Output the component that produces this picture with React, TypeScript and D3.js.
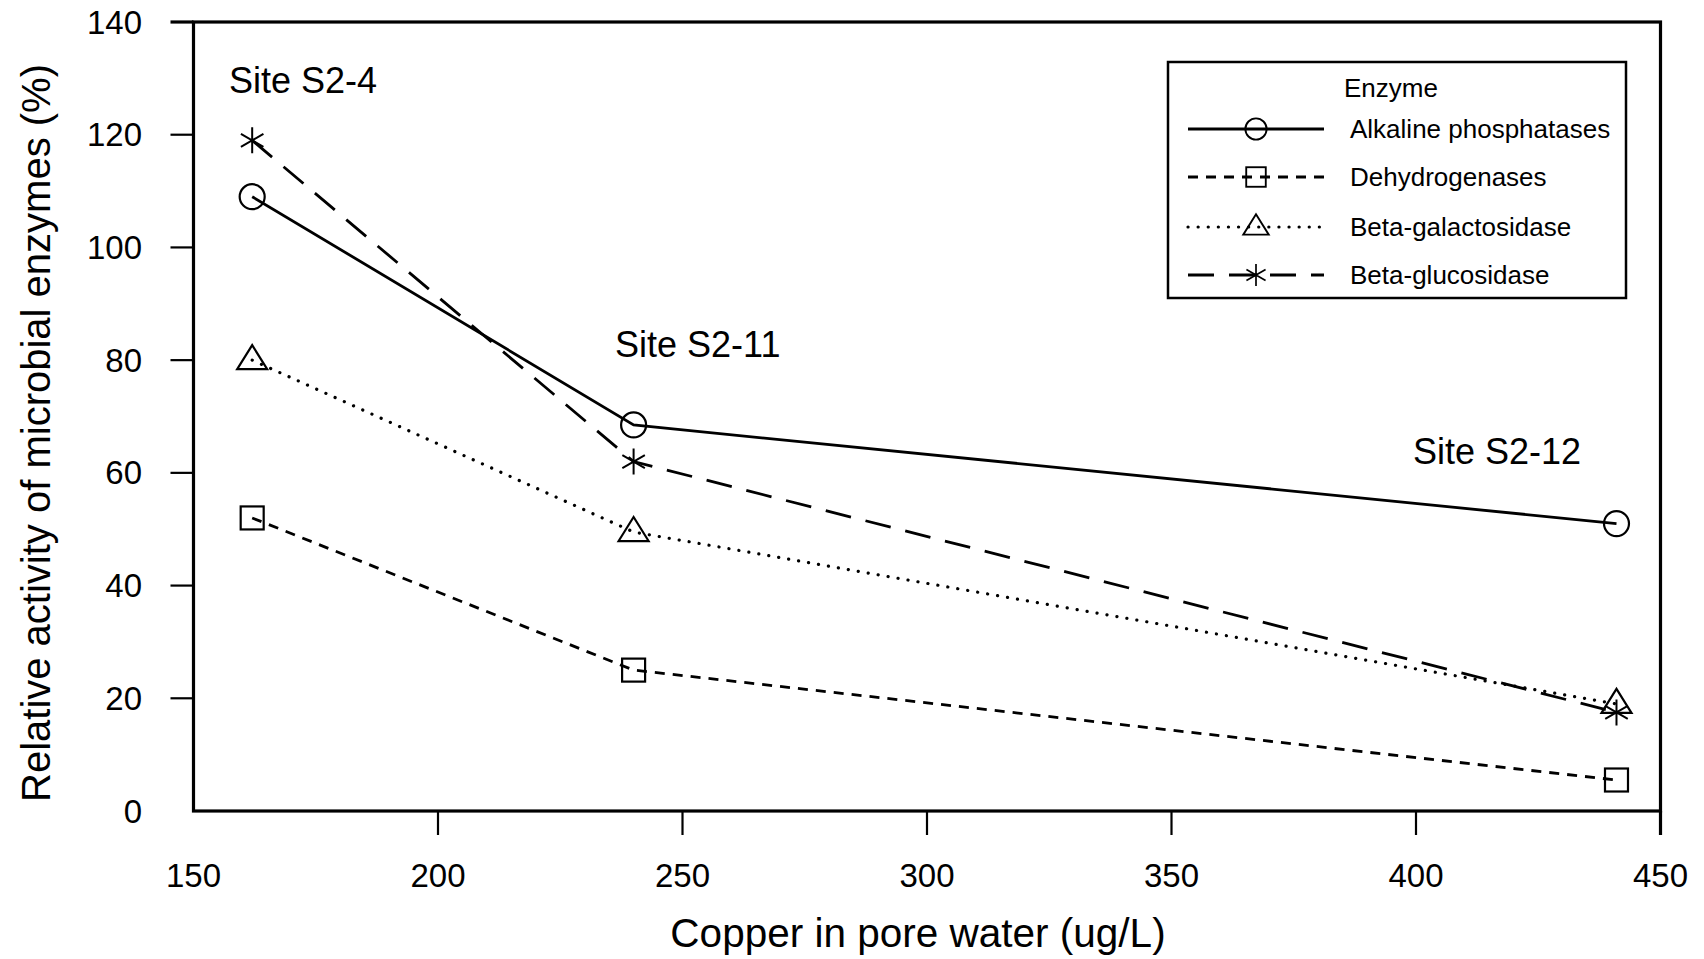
import React from "react";
import * as d3 from "d3";

const copper = [162, 240, 441];
const alkaline = [109, 68.5, 51];
const dehydrogenases = [52, 25, 5.5];
const galactosidase = [80, 49.5, 19];
const glucosidase = [119, 62, 17.5];

const seriesNames = ["Alkaline phosphatases", "Dehydrogenases", "Beta-galactosidase", "Beta-glucosidase"];
const seriesValues = [alkaline, dehydrogenases, galactosidase, glucosidase];
const seriesMarkers = ["circle", "square", "triangle", "asterisk"];
const seriesDash = ["none", "10 8", "0.1 10", "26 15"];

const siteLabels = ["Site S2-4", "Site S2-11", "Site S2-12"];

const xTicks = [200, 250, 300, 350, 400, 450];
const xTickLabels = [150, 200, 250, 300, 350, 400, 450];
const yTicks = [20, 40, 60, 80, 100, 120, 140];
const yTickLabels = [0, 20, 40, 60, 80, 100, 120, 140];

const FONT = "'Liberation Sans', Arial, Helvetica, sans-serif";

function Marker({ type, x, y }: { type: string; x: number; y: number }) {
  const sw = 2.2;
  if (type === "circle") return <circle cx={x} cy={y} r={12.5} fill="none" stroke="#000" strokeWidth={sw} />;
  if (type === "square") return <rect x={x - 11.5} y={y - 11.5} width={23} height={23} fill="none" stroke="#000" strokeWidth={sw} />;
  if (type === "triangle") {
    const s = 15;
    const p = `M${x},${y - s} L${x + s * 1.0},${y + s * 0.6} L${x - s * 1.0},${y + s * 0.6} Z`;
    return <path d={p} fill="none" stroke="#000" strokeWidth={sw} />;
  }
  const r = 13;
  const a = (30 * Math.PI) / 180;
  const dx = r * Math.cos(a);
  const dy = r * Math.sin(a);
  const d = `M${x},${y - r} L${x},${y + r} M${x - dx},${y - dy} L${x + dx},${y + dy} M${x - dx},${y + dy} L${x + dx},${y - dy}`;
  return <path d={d} fill="none" stroke="#000" strokeWidth={2} />;
}

export default function App() {
  const W = 1704, H = 959;
  const left = 193.5, right = 1660.5, top = 22, bottom = 811;
  const x = d3.scaleLinear().domain([150, 450]).range([left, right]);
  const y = d3.scaleLinear().domain([0, 140]).range([bottom, top]);
  const line = d3.line<number>().x((_, i) => x(copper[i])).y((v) => y(v)).curve(d3.curveLinear);

  const siteX = [229, 615, 1413];
  const siteBaselines = [93, 357, 464];

  const legendRows = [129, 177, 227, 275];
  const lgX0 = 1188, lgX1 = 1324, lgM = 1256, lgT = 1350;

  return (
    <svg width={W} height={H} style={{ position: "absolute", left: 0, top: 0, display: "block", background: "#fff" }} fontFamily={FONT}>
      <rect x={0} y={0} width={W} height={H} fill="#fff" />
      {/* frame */}
      <rect x={left} y={top} width={right - left} height={bottom - top} fill="none" stroke="#000" strokeWidth={3.2} />
      {/* y ticks */}
      {yTicks.map((t) => (
        <line key={"yt" + t} x1={left - 23} x2={left} y1={y(t)} y2={y(t)} stroke="#000" strokeWidth={t === 140 ? 3.2 : 2.2} />
      ))}
      {yTickLabels.map((t) => (
        <text key={"yl" + t} x={142} y={y(t)} textAnchor="end" dominantBaseline="central" fontSize={33} fill="#000">
          {t}
        </text>
      ))}
      {/* x ticks */}
      {xTicks.map((t) => (
        <line key={"xt" + t} x1={x(t)} x2={x(t)} y1={bottom} y2={bottom + 24} stroke="#000" strokeWidth={t === 450 ? 3.2 : 2.2} />
      ))}
      {xTickLabels.map((t) => (
        <text key={"xl" + t} x={x(t)} y={887} textAnchor="middle" fontSize={33} fill="#000">
          {t}
        </text>
      ))}
      {/* axis titles */}
      <text x={918} y={947} textAnchor="middle" fontSize={40.5} fill="#000">
        Copper in pore water (ug/L)
      </text>
      <text transform={`translate(36,433) rotate(-90)`} textAnchor="middle" dominantBaseline="central" fontSize={40} fill="#000">
        Relative activity of microbial enzymes (%)
      </text>
      {/* series */}
      {seriesValues.map((vals, si) => (
        <path
          key={"s" + si}
          d={line(vals) || ""}
          fill="none"
          stroke="#000"
          strokeWidth={si === 2 ? 3.2 : 2.8}
          strokeDasharray={seriesDash[si] === "none" ? undefined : seriesDash[si]}
          strokeLinecap={si === 2 ? "round" : "butt"}
        />
      ))}
      {seriesValues.map((vals, si) =>
        vals.map((v, i) => <Marker key={"m" + si + "-" + i} type={seriesMarkers[si]} x={x(copper[i])} y={y(v)} />)
      )}
      {/* site labels */}
      {siteLabels.map((s, i) => (
        <text key={s} x={siteX[i]} y={siteBaselines[i]} fontSize={36} fill="#000">
          {s}
        </text>
      ))}
      {/* legend */}
      <rect x={1168} y={62} width={458} height={236} fill="#fff" stroke="#000" strokeWidth={2.5} />
      <text x={1344} y={88} dominantBaseline="central" fontSize={26} fill="#000">
        Enzyme
      </text>
      {seriesNames.map((n, i) => (
        <g key={"lg" + i}>
          <line
            x1={lgX0}
            x2={lgX1}
            y1={legendRows[i]}
            y2={legendRows[i]}
            stroke="#000"
            strokeWidth={i === 2 ? 3.2 : 2.8}
            strokeDasharray={seriesDash[i] === "none" ? undefined : seriesDash[i]}
            strokeLinecap={i === 2 ? "round" : "butt"}
          />
          <g transform={`translate(${lgM},${legendRows[i]}) scale(0.85) translate(${-lgM},${-legendRows[i]})`}>
            <Marker type={seriesMarkers[i]} x={lgM} y={legendRows[i]} />
          </g>
          <text x={lgT} y={legendRows[i]} dominantBaseline="central" fontSize={26} fill="#000">
            {n}
          </text>
        </g>
      ))}
    </svg>
  );
}
